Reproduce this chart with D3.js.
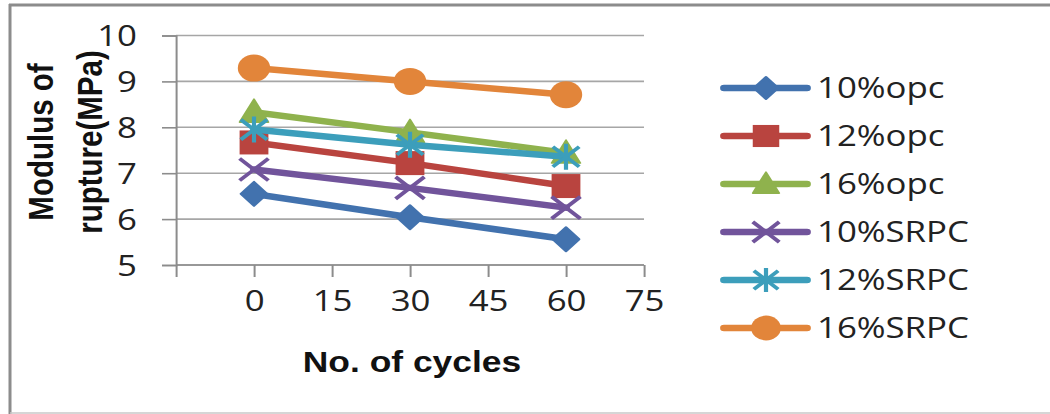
<!DOCTYPE html>
<html>
<head>
<meta charset="utf-8">
<script src="https://cdn.jsdelivr.net/npm/d3@7"></script>
<style>
  html, body { margin: 0; padding: 0; background: #fff; }
  svg { display: block; }
</style>
</head>
<body>
<svg id="chart" width="1050" height="414"></svg>
<script>
// Modulus of rupture vs number of cycles
const cycles = [0, 30, 60];
const seriesNames = ["10%opc", "12%opc", "16%opc", "10%SRPC", "12%SRPC", "16%SRPC"];
const opc10  = [6.55, 6.04, 5.56];
const opc12  = [7.67, 7.22, 6.72];
const opc16  = [8.33, 7.89, 7.44];
const srpc10 = [7.08, 6.68, 6.25];
const srpc12 = [7.95, 7.62, 7.36];
const srpc16 = [9.29, 9.00, 8.71];
const seriesValues = [opc10, opc12, opc16, srpc10, srpc12, srpc16];
const xTicks = [-15, 0, 15, 30, 45, 60, 75];
const yTicks = [5, 6, 7, 8, 9, 10];
const colors = ["#4272AE", "#B9443F", "#8FB24D", "#71549B", "#3C9EBB", "#E2853A"];
const markers = ["diamond", "square", "triangle", "cross", "star", "circle"];

// the drawing is laid out in a horizontally condensed space and stretched to the full width
const SX = 1.2;
const W = 1050, H = 414;
const svg = d3.select("#chart")
  .attr("viewBox", `0 0 ${W / SX} ${H}`)
  .attr("preserveAspectRatio", "none");
const px = v => v / SX;

const x = d3.scaleLinear().domain([-15, 75]).range([px(176), px(644)]);
const y = d3.scaleLinear().domain([5, 10]).range([265, 35.5]);

const regularFont = "'Open Sans', sans-serif";
const boldFont = "'Liberation Sans', Arial, sans-serif";

// frame
svg.append("line").attr("x1", px(9)).attr("x2", W / SX).attr("y1", 5).attr("y2", 5)
  .attr("stroke", "#8C8C8C").attr("stroke-width", 3);
svg.append("line").attr("x1", px(10)).attr("x2", px(10)).attr("y1", 4).attr("y2", H)
  .attr("stroke", "#8C8C8C").attr("stroke-width", px(3));
svg.append("line").attr("x1", px(10)).attr("x2", W / SX).attr("y1", 413).attr("y2", 413)
  .attr("stroke", "#C8C8C8").attr("stroke-width", 1.5);

// gridlines
svg.append("g").selectAll("line").data(yTicks).join("line")
  .attr("x1", x(-15)).attr("x2", x(75))
  .attr("y1", d => y(d)).attr("y2", d => y(d))
  .attr("stroke", "#A6A6A6").attr("stroke-width", 1.6);

// y axis
const yAxis = svg.append("g")
  .attr("transform", `translate(${x(-15)},0)`)
  .call(d3.axisLeft(y).tickValues(yTicks).tickSize(px(14)).tickPadding(px(25)).tickFormat(d3.format("d")));
yAxis.select(".domain").attr("stroke", "#8C8C8C").attr("stroke-width", px(2));
yAxis.selectAll(".tick line").attr("stroke", "#8C8C8C").attr("stroke-width", 1.6);
yAxis.selectAll(".tick text")
  .attr("font-family", regularFont).attr("font-size", 29).attr("fill", "#222")
  .attr("dy", "0.36em");

// x axis
const xAxis = svg.append("g")
  .attr("transform", `translate(0,${y(5)})`)
  .call(d3.axisBottom(x).tickValues(xTicks).tickSize(12).tickPadding(13)
    .tickFormat(d => d < 0 ? "" : d3.format("d")(d)));
xAxis.select(".domain").attr("stroke", "#8C8C8C").attr("stroke-width", 1.6)
  .attr("d", `M${x(-15)},0H${x(75)}`);
xAxis.selectAll(".tick line").attr("stroke", "#8C8C8C").attr("stroke-width", px(2));
xAxis.selectAll(".tick text")
  .attr("font-family", regularFont).attr("font-size", 29).attr("fill", "#222");

// axis titles
svg.append("text")
  .attr("x", px(412)).attr("y", 372)
  .attr("text-anchor", "middle")
  .attr("font-family", boldFont).attr("font-weight", "bold").attr("font-size", 29.5).attr("fill", "#111")
  .text("No. of cycles");

const yTitle = svg.append("g").attr("font-family", boldFont).attr("font-weight", "bold")
  .attr("font-size", 29.5).attr("fill", "#111").attr("text-anchor", "middle");
yTitle.append("text").attr("transform", `translate(${px(53)},142) rotate(-90)`).text("Modulus of");
yTitle.append("text").attr("transform", `translate(${px(102)},142) rotate(-90)`).text("rupture(MPa)");

// marker shapes, in condensed space
function drawMarker(g, type, color, s) {
  if (type === "diamond") {
    g.append("path").attr("d", `M0,${-12 * s}L${11 * s},0L0,${12 * s}L${-11 * s},0Z`)
      .attr("fill", color).attr("stroke", color).attr("stroke-width", 2).attr("stroke-linejoin", "round");
  } else if (type === "square") {
    g.append("rect").attr("x", -12 * s).attr("y", -12 * s).attr("width", 24 * s).attr("height", 24 * s)
      .attr("fill", color);
  } else if (type === "triangle") {
    g.append("path").attr("d", `M0,${-13 * s}L${12 * s},${10 * s}L${-12 * s},${10 * s}Z`)
      .attr("fill", color).attr("stroke", color).attr("stroke-width", 1.5).attr("stroke-linejoin", "round");
  } else if (type === "cross") {
    g.append("path").attr("d", `M${-12 * s},${-11 * s}L${12 * s},${11 * s}M${-12 * s},${11 * s}L${12 * s},${-11 * s}`)
      .attr("stroke", color).attr("stroke-width", 3.5).attr("fill", "none");
  } else if (type === "star") {
    g.append("path").attr("d", `M${-11 * s},${-10 * s}L${11 * s},${10 * s}M${-11 * s},${10 * s}L${11 * s},${-10 * s}M0,${-13 * s}L0,${13 * s}`)
      .attr("stroke", color).attr("stroke-width", 3.5).attr("fill", "none");
  } else {
    g.append("circle").attr("r", 13.5 * s).attr("fill", color);
  }
}

// series lines and markers
const line = d3.line().x((d, i) => x(cycles[i])).y(d => y(d));
seriesValues.forEach((vals, k) => {
  const g = svg.append("g");
  g.append("path").datum(vals).attr("d", line)
    .attr("fill", "none").attr("stroke", colors[k]).attr("stroke-width", 6.5)
    .attr("stroke-linecap", "round").attr("stroke-linejoin", "round");
  vals.forEach((v, i) => {
    const m = g.append("g").attr("transform", `translate(${x(cycles[i])},${y(v)})`);
    drawMarker(m, markers[k], colors[k], 1);
  });
});

// legend
const legend = svg.append("g");
seriesNames.forEach((name, k) => {
  const ly = 88 + k * 48;
  const item = legend.append("g");
  item.append("line").attr("x1", px(724)).attr("x2", px(807)).attr("y1", ly).attr("y2", ly)
    .attr("stroke", colors[k]).attr("stroke-width", 6.5).attr("stroke-linecap", "round");
  const m = item.append("g").attr("transform", `translate(${px(766)},${ly})`);
  drawMarker(m, markers[k], colors[k], 0.92);
  item.append("text").attr("x", px(817)).attr("y", ly).attr("dy", "0.36em")
    .attr("font-family", regularFont).attr("font-size", 29).attr("fill", "#222")
    .text(name);
});
</script>
</body>
</html>
